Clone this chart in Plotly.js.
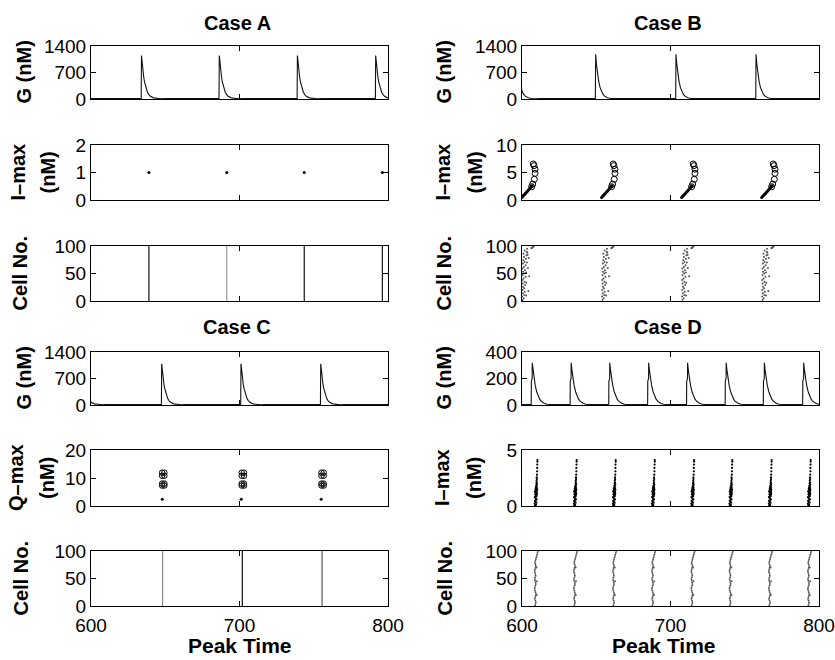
<!DOCTYPE html>
<html><head><meta charset="utf-8">
<script src="https://cdn.plot.ly/plotly-3.0.1.min.js"></script>
<style>html,body{margin:0;padding:0;background:#fff}#chart{width:835px;height:660px}</style>
</head><body><div id="chart"></div>
<script>
// ---------- DATA ----------
const xTicks = [600, 700, 800];
const caseTitles = ['Case A', 'Case B', 'Case C', 'Case D'];

// Case A: G trace (nM)
const gA_peaks = [634.0, 686.4, 739.0, 791.7];
const gA_dt  = [-0.2, 0, 0.5, 1, 1.5, 2, 3, 4, 5, 6, 8, 10, 13, 16];
const gA_val = [10, 1150, 900, 720, 580, 460, 290, 180, 115, 70, 30, 14, 8, 10];
// Case A: I-max (nM)
const iA_t = [639.0, 691.4, 743.6, 796.2];
const iA_v = [1, 1, 1, 1];
// Case A: cell firing times (all 100 cells fire together)
const cellA_t = [639.0, 691.4, 743.6, 796.2];
const cellA_col = ['#111', '#999', '#111', '#111'];

// Case B: G trace
const gB_peaks = [596.2, 649.6, 703.7, 757.6];
const gB_dt  = [-0.2, 0, 0.5, 1, 1.5, 2, 3, 4, 5, 6, 8, 10, 13, 16];
const gB_val = [10, 1180, 930, 740, 600, 480, 300, 190, 120, 75, 32, 14, 8, 10];
// Case B: I-max clusters (start times), dots and circles within a cluster
const iB_start = [599.8, 653.6, 707.5, 761.4];
const iB_dotDt  = [0.0, 0.5, 1.0, 1.5, 2.0, 2.5, 3.0, 3.5, 4.0, 4.5, 5.0, 5.5, 6.0, 6.4, 6.7, 7.0];
const iB_dotV   = [0.45, 0.6, 0.75, 0.9, 1.05, 1.2, 1.35, 1.5, 1.65, 1.8, 1.95, 2.1, 2.25, 2.4, 2.5, 2.6];
const iB_circDt = [6.7, 7.4, 8.5, 9.0, 9.0, 8.3, 7.8];
const iB_circV  = [2.42, 2.9, 3.76, 4.85, 5.6, 6.25, 6.55];
// Case B: raster (cell number vs. time offset from cluster start)
const cellB_start = [599.8, 653.6, 707.5, 761.4];
const cellB_cell = [2,5,8,11,14,17,20,23,26,29,32,35,38,41,44,47,50,53,56,59,62,65,68,71,74,77,80,83,86,89,92,95,97,99,18,45,60,78,88,96,98,10,33,52,70,84];
const cellB_dt   = [0.6,1.4,0.3,1.8,0.8,2.1,0.5,1.6,0.9,2.4,0.7,1.9,0.4,1.3,2.6,0.6,1.7,0.9,2.2,0.5,1.5,2.7,0.8,1.9,1.0,2.9,1.5,3.2,1.2,3.4,2.0,3.6,7.0,8.0,4.5,5.0,4.2,4.8,3.8,6.5,7.5,3.0,3.1,2.9,3.5,4.0];

// Case C: G trace
const gC_peaks = [594.2, 647.6, 701.0, 754.7];
const gC_dt  = [-0.2, 0, 0.5, 1, 1.5, 2, 3, 4, 5, 6, 8, 10, 13, 16];
const gC_val = [10, 1090, 860, 690, 555, 445, 280, 175, 110, 70, 30, 14, 8, 10];
// Case C: Q-max
const qC_dotT = [648.0, 701.2, 755.0];
const qC_dotV = [2.4, 2.4, 2.4];
const qC_circDt = [-0.7, 0.8, -0.7, 0.8, -0.7, 0.8, -0.7, 0.8];
const qC_circV  = [11.9, 11.9, 10.8, 10.8, 8.0, 8.0, 7.3, 7.3];
const qC_circCentre = [648.6, 702.2, 755.9];
// Case C: cell firing times
const cellC_t = [648.2, 701.9, 755.6];
const cellC_col = ['#888', '#111', '#555'];

// Case D: G trace
const gD_peaks = [606.9, 633.1, 659.1, 685.3, 711.5, 737.5, 763.2, 789.7];
const gD_dt  = [-0.7, -0.6, -0.05, 0, 0.5, 1, 1.5, 2, 3, 4, 5, 6, 8, 10, 13];
const gD_val = [3, 180, 200, 318, 265, 220, 180, 148, 100, 66, 44, 29, 13, 6, 3];
// Case D: I-max cluster centres and within-cluster points
const iD_centre = [608.8, 635.2, 661.5, 687.8, 714.3, 740.0, 766.5, 792.8];
const iD_v  = [0.05,0.1,0.2,0.3,0.35,0.45,0.55,0.6,0.7,0.8,0.85,0.9,1.0,1.05,1.1,1.15,1.2,1.25,1.3,1.35,1.4,1.45,1.5,1.55,1.6,1.65,1.7,1.8,1.9,2.0,2.1,2.25,2.4,2.55,2.8,3.1,3.4,3.7,3.95,4.1];
const iD_dt = [0.0,0.6,-0.3,0.9,0.2,-0.1,0.7,1.1,0.3,-0.2,0.9,0.5,1.2,0.1,0.7,1.3,0.4,0.9,-0.1,1.1,0.6,1.4,0.3,0.9,1.2,0.5,1.0,0.7,1.3,0.9,1.1,1.0,1.2,1.1,1.3,1.4,1.4,1.5,1.6,1.6];
// Case D: raster
const cellD_centre = [608.8, 635.2, 661.5, 687.8, 714.3, 740.0, 766.5, 792.8];
const cellD_cell = [1,4,7,10,13,16,19,22,25,28,31,34,37,40,43,46,49,52,55,58,61,64,67,70,73,76,79,82,85,88,91,94,97,100,20,45,70];
const cellD_dt   = [0.0,0.3,0.5,0.2,-0.2,0.1,0.4,0.6,0.3,0.0,-0.3,-0.1,0.2,0.5,0.3,0.0,-0.2,0.1,0.4,0.2,-0.1,-0.3,0.0,0.3,0.5,0.2,-0.1,0.2,0.5,0.8,1.1,1.4,1.7,2.0,1.1,1.2,1.0];

// ---------- BUILD ----------
const FONT = 'Liberation Sans, Arial, Helvetica, sans-serif';
const W = 835, H = 660;
const px = v => v / W, py = v => 1 - v / H;

function curve(peaks, dt, val, base) {
  const x = [560], y = [base];
  peaks.forEach(p => { dt.forEach((d, i) => { x.push(p + d); y.push(val[i]); }); });
  x.push(840); y.push(base);
  return {x, y};
}
function cluster(starts, dt, vals) {
  const x = [], y = [];
  starts.forEach(s => { dt.forEach((d, i) => { x.push(s + d); y.push(vals[i]); }); });
  return {x, y};
}

const traces = [];
function lineTrace(c, ax, col, w) {
  traces.push({x: c.x, y: c.y, xaxis: 'x' + ax, yaxis: 'y' + ax, mode: 'lines',
    line: {color: col || '#000', width: w || 1}, hoverinfo: 'skip'});
}
function dotTrace(c, ax, size, col, symbol) {
  traces.push({x: c.x, y: c.y, xaxis: 'x' + ax, yaxis: 'y' + ax, mode: 'markers',
    marker: {size: size, color: col, symbol: symbol || 'circle',
      line: {color: col, width: symbol ? 1 : 0}}, hoverinfo: 'skip'});
}
function vlines(times, cols, ax) {
  times.forEach((t, i) => {
    traces.push({x: [t, t], y: [0, 100], xaxis: 'x' + ax, yaxis: 'y' + ax, mode: 'lines',
      line: {color: cols[i], width: 1.2}, hoverinfo: 'skip'});
  });
}

// A
lineTrace(curve(gA_peaks, gA_dt, gA_val, 10), 1, '#111', 1.1);
dotTrace({x: iA_t, y: iA_v}, 2, 3, '#000');
vlines(cellA_t, cellA_col, 3);
// B
lineTrace(curve(gB_peaks, gB_dt, gB_val, 10), 4, '#111', 1.1);
dotTrace(cluster(iB_start, iB_dotDt, iB_dotV), 5, 3, '#000');
dotTrace(cluster(iB_start, iB_circDt, iB_circV), 5, 6, '#000', 'circle-open');
dotTrace(cluster(cellB_start, cellB_dt, cellB_cell), 6, 2, '#555');
// C
lineTrace(curve(gC_peaks, gC_dt, gC_val, 10), 7, '#111', 1.1);
dotTrace({x: qC_dotT, y: qC_dotV}, 8, 3, '#000');
dotTrace(cluster(qC_circCentre, qC_circDt, qC_circV), 8, 5.5, '#000', 'circle-open');
vlines(cellC_t, cellC_col, 9);
// D
lineTrace(curve(gD_peaks, gD_dt, gD_val, 3), 10, '#111', 1.1);
dotTrace(cluster(iD_centre, iD_dt, iD_v), 11, 2.2, '#000');
dotTrace(cluster(cellD_centre, cellD_dt, cellD_cell), 12, 1.8, '#555');

// ---------- LAYOUT ----------
const colX = [[91, 388], [522, 819]];
const rowY = [[46, 99], [145, 200], [246, 301], [352, 405], [450, 506], [551, 606]];
// axis index -> [column, row, yrange, ytick step]
const axDefs = {
  1: [0, 0, [0, 1400], 700], 2: [0, 1, [0, 2], 1], 3: [0, 2, [0, 100], 50],
  4: [1, 0, [0, 1400], 700], 5: [1, 1, [0, 10], 5], 6: [1, 2, [0, 100], 50],
  7: [0, 3, [0, 1400], 700], 8: [0, 4, [0, 20], 10], 9: [0, 5, [0, 100], 50],
  10: [1, 3, [0, 400], 200], 11: [1, 4, [0, 5], 5], 12: [1, 5, [0, 100], 50]
};
const tickFont = {family: FONT, size: 19, color: '#000'};
const layout = {
  width: W, height: H, margin: {l: 0, r: 0, t: 0, b: 0},
  paper_bgcolor: '#fff', plot_bgcolor: '#fff', showlegend: false, annotations: []
};
Object.keys(axDefs).forEach(k => {
  const [c, r, yr, dy] = axDefs[k];
  const common = {showline: true, mirror: 'ticks', linecolor: '#000', linewidth: 1,
    ticks: 'inside', ticklen: 5, tickcolor: '#000', tickwidth: 1, showgrid: false,
    zeroline: false, tickfont: tickFont, fixedrange: true};
  layout['xaxis' + k] = Object.assign({}, common, {
    domain: [px(colX[c][0]), px(colX[c][1])], range: [600, 800], tickmode: 'array',
    tickvals: xTicks, ticktext: xTicks.map(String), anchor: 'y' + k,
    showticklabels: r === 5, ticklabelstandoff: 2 });
  layout['yaxis' + k] = Object.assign({}, common, {
    domain: [py(rowY[r][1]), py(rowY[r][0])], range: yr, dtick: dy, tick0: 0,
    anchor: 'x' + k });
});

const bold = (size) => ({family: FONT, size: size, color: '#000', weight: 'bold'});
function ann(text, x, y, size, angle) {
  layout.annotations.push({text: '<b>' + text + '</b>', x: px(x), y: py(y), xref: 'paper', yref: 'paper',
    xanchor: 'center', yanchor: 'middle', showarrow: false, textangle: angle || 0,
    borderpad: 0, font: bold(size)});
}
// Case titles
ann(caseTitles[0], 237, 23, 20);
ann(caseTitles[1], 668, 23, 20);
ann(caseTitles[2], 237, 327, 20);
ann(caseTitles[3], 668, 327, 20);
// x titles
ann('Peak Time', 240, 645, 21);
ann('Peak Time', 664, 645, 21);
// y titles, left column
ann('G (nM)', 23, 72.5, 20, -90);
ann('I–max', 17, 172.5, 20, -90);
ann('(nM)', 47, 172.5, 20, -90);
ann('Cell No.', 20, 273.5, 20, -90);
ann('G (nM)', 23, 378.5, 20, -90);
ann('Q–max', 16, 478, 20, -90);
ann('(nM)', 47, 478, 20, -90);
ann('Cell No.', 20, 578.5, 20, -90);
// y titles, right column
ann('G (nM)', 443, 72.5, 20, -90);
ann('I–max', 442, 172.5, 20, -90);
ann('(nM)', 474, 172.5, 20, -90);
ann('Cell No.', 444, 273.5, 20, -90);
ann('G (nM)', 443, 378.5, 20, -90);
ann('I–max', 442, 478, 20, -90);
ann('(nM)', 474, 478, 20, -90);
ann('Cell No.', 444, 578.5, 20, -90);

Plotly.newPlot('chart', traces, layout, {staticPlot: true, displayModeBar: false});
</script></body></html>
